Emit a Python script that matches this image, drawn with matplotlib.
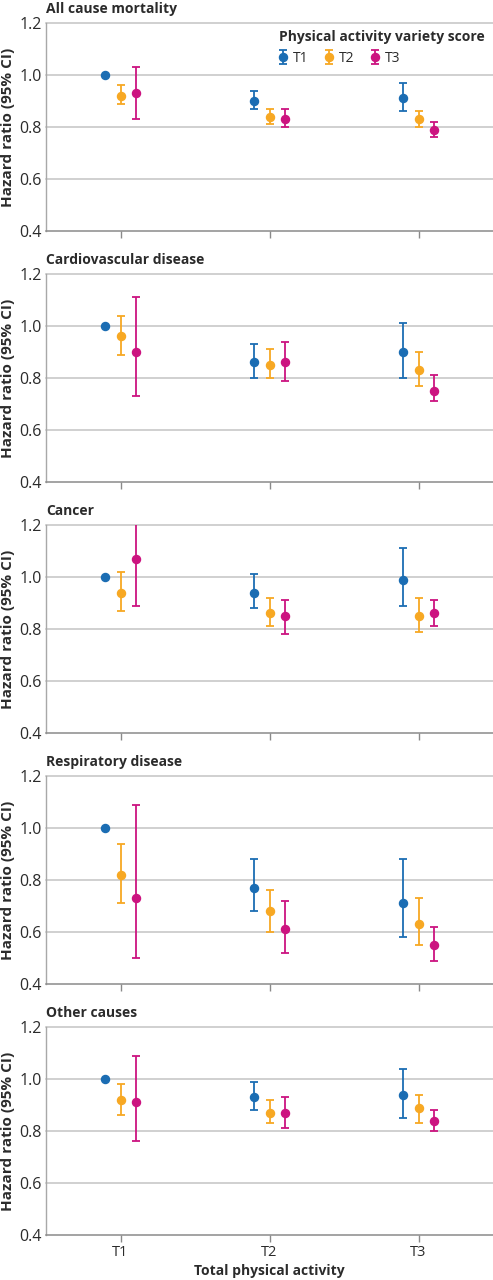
import matplotlib
matplotlib.use("Agg")
import matplotlib.pyplot as plt
import numpy as np

plt.rcParams['font.family'] = ['Open Sans', 'DejaVu Sans']

groups = ["T1", "T2", "T3"]  # total physical activity
series = ["T1", "T2", "T3"]  # physical activity variety score
colors = ["#1b6db3", "#f7a823", "#cc1480"]
panels = ["All cause mortality", "Cardiovascular disease", "Cancer",
          "Respiratory disease", "Other causes"]

# hr[panel][series] -> values across total-activity groups
all_hr = [[1.00, 0.90, 0.91], [0.92, 0.84, 0.83], [0.93, 0.83, 0.79]]
all_lo = [[1.00, 0.87, 0.86], [0.89, 0.81, 0.80], [0.83, 0.80, 0.76]]
all_hi = [[1.00, 0.94, 0.97], [0.96, 0.87, 0.86], [1.03, 0.87, 0.82]]

cvd_hr = [[1.00, 0.86, 0.90], [0.96, 0.85, 0.83], [0.90, 0.86, 0.75]]
cvd_lo = [[1.00, 0.80, 0.80], [0.89, 0.80, 0.77], [0.73, 0.79, 0.71]]
cvd_hi = [[1.00, 0.93, 1.01], [1.04, 0.91, 0.90], [1.11, 0.94, 0.81]]

can_hr = [[1.00, 0.94, 0.99], [0.94, 0.86, 0.85], [1.07, 0.85, 0.86]]
can_lo = [[1.00, 0.88, 0.89], [0.87, 0.81, 0.79], [0.89, 0.78, 0.81]]
can_hi = [[1.00, 1.01, 1.11], [1.02, 0.92, 0.92], [1.28, 0.91, 0.91]]

res_hr = [[1.00, 0.77, 0.71], [0.82, 0.68, 0.63], [0.73, 0.61, 0.55]]
res_lo = [[1.00, 0.68, 0.58], [0.71, 0.60, 0.55], [0.50, 0.52, 0.49]]
res_hi = [[1.00, 0.88, 0.88], [0.94, 0.76, 0.73], [1.09, 0.72, 0.62]]

oth_hr = [[1.00, 0.93, 0.94], [0.92, 0.87, 0.89], [0.91, 0.87, 0.84]]
oth_lo = [[1.00, 0.88, 0.85], [0.86, 0.83, 0.83], [0.76, 0.81, 0.80]]
oth_hi = [[1.00, 0.99, 1.04], [0.98, 0.92, 0.94], [1.09, 0.93, 0.88]]

data = [(all_hr, all_lo, all_hi), (cvd_hr, cvd_lo, cvd_hi),
        (can_hr, can_lo, can_hi), (res_hr, res_lo, res_hi),
        (oth_hr, oth_lo, oth_hi)]

yticks = [0.4, 0.6, 0.8, 1.0, 1.2]

W, H = 493, 1280
fig = plt.figure(figsize=(W / 100, H / 100), dpi=100)

x = np.arange(len(groups))
offsets = [-0.107, 0.0, 0.107]
grid_c = "#c4c4c4"
text_c = "#2b2b2b"

for i, (title, (hr, lo, hi)) in enumerate(zip(panels, data)):
    top = 23 + 251 * i
    ax = fig.add_axes([46 / W, 1 - (top + 208) / H, 447 / W, 208 / H])
    ax.set_xlim(-0.5, 2.5)
    ax.set_ylim(0.4, 1.2)
    ax.set_yticks(yticks)
    ax.set_yticklabels([f"{v:.1f}" for v in yticks])
    for v in yticks[1:]:
        ax.axhline(v, color=grid_c, lw=1.1, zorder=0, clip_on=False)
    for s in range(3):
        h = np.array(hr[s]); l = np.array(lo[s]); u = np.array(hi[s])
        xs = x + offsets[s]
        ax.errorbar(xs, h, yerr=[h - l, u - h], fmt='o', color=colors[s],
                    ms=5.8, elinewidth=1.3, capsize=3, capthick=1.3,
                    label=series[s], zorder=3)
    for sp in ["top", "right"]:
        ax.spines[sp].set_visible(False)
    ax.spines["left"].set_color("#a8a8a8")
    ax.spines["bottom"].set_color("#8a8a8a")
    ax.spines["left"].set_linewidth(1.0)
    ax.spines["bottom"].set_linewidth(1.1)
    ax.tick_params(axis='y', length=0, pad=3, labelsize=11.5, labelcolor=text_c)
    ax.tick_params(axis='x', length=5, width=1, color="#8a8a8a", pad=2,
                   labelsize=10.5, labelcolor=text_c)
    ax.set_xticks(x)
    if i == len(panels) - 1:
        ax.set_xticklabels(groups)
    else:
        ax.set_xticklabels([])
    ax.set_ylabel("Hazard ratio (95% CI)", fontsize=11, fontweight='bold',
                  color=text_c)
    ax.yaxis.label.set_verticalalignment('center')
    ax.yaxis.set_label_coords(-38 / 447, 0.5)
    ax.text(0.0, 1.035, title, transform=ax.transAxes, fontsize=10,
            fontweight='bold', color=text_c, ha='left', va='bottom')
    if i == 0:
        leg = ax.legend(title="Physical activity variety score", ncol=3,
                        loc='upper right', bbox_to_anchor=(1.0, 1.005),
                        frameon=False, fontsize=10, handlelength=0.6,
                        handletextpad=0.4, columnspacing=1.2,
                        borderaxespad=0.2, alignment='left',
                        title_fontproperties={'weight': 'bold', 'size': 10})
        leg.get_title().set_color(text_c)
        for t in leg.get_texts():
            t.set_color(text_c)

fig.text(269 / W, 1 - 1271 / H, "Total physical activity", fontsize=10,
         fontweight='bold', color=text_c, ha='center', va='center')

fig.savefig("out.png", dpi=100)
